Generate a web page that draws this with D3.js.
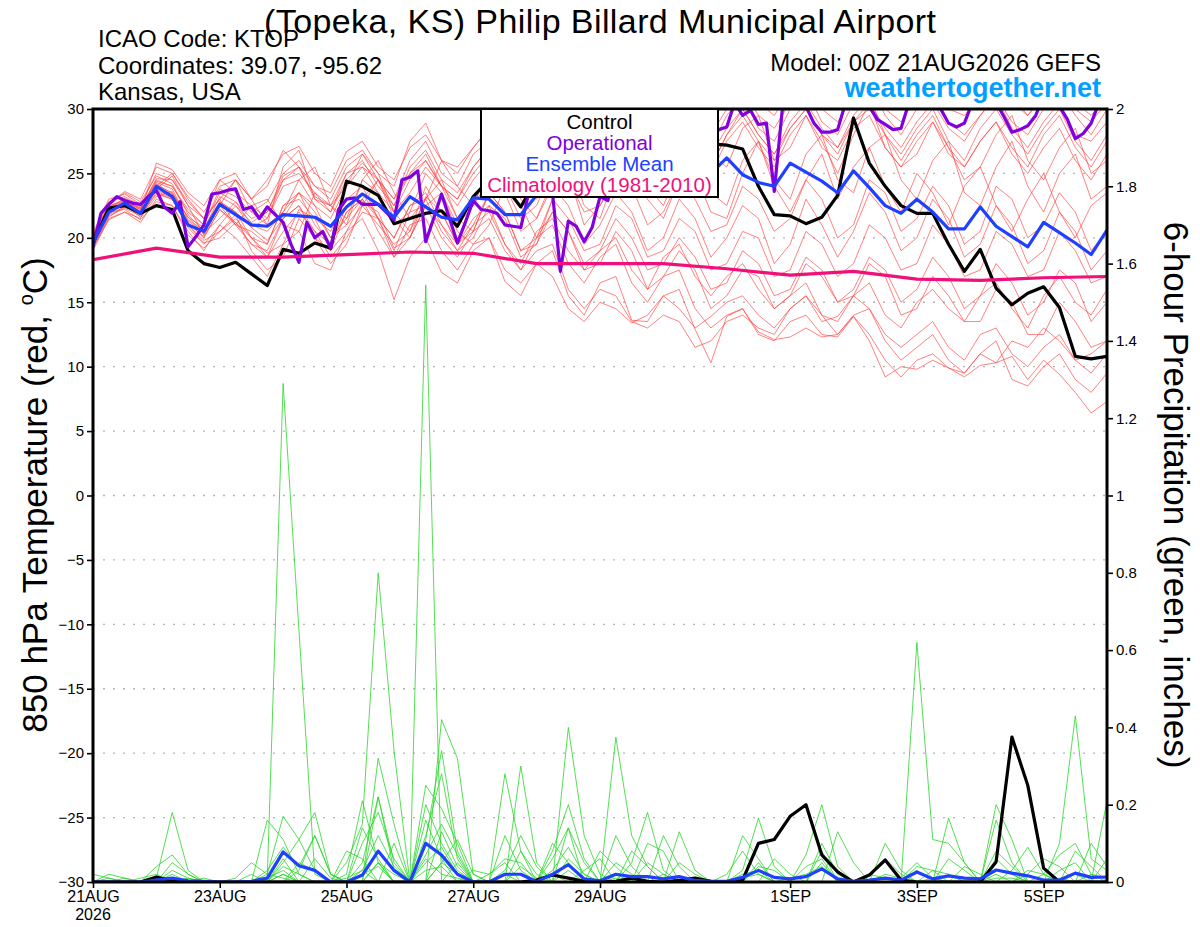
<!DOCTYPE html>
<html>
<head>
<meta charset="utf-8">
<script src="https://cdn.jsdelivr.net/npm/d3@7"></script>
<style>
  body { margin: 0; background: #fff; }
  text { font-family: "Liberation Sans", Arial, Helvetica, sans-serif; }
</style>
</head>
<body>
<div id="chart-area"></div>
<script>
// 850 hPa temperature (C), 6-hourly, 21AUG 00Z .. 6SEP 00Z (65 steps)
const controlTemp = [
  19.6, 22.3, 22.5, 21.9, 22.5, 22.2, 19.0, 18.0,
  17.7, 18.1, 17.2, 16.3, 19.1, 18.8, 19.6, 19.2,
  24.4, 24.0, 23.3, 21.1, 21.5, 21.9, 22.1, 20.9,
  23.2, 24.5, 24.0, 22.4, 24.5, 25.0, 24.5, 25.5,
  26.0, 25.0, 26.5, 27.0, 26.5, 27.5, 27.0, 27.3,
  27.2, 26.9, 24.0, 21.8, 21.7, 21.1, 21.6, 23.3,
  29.3, 25.8, 24.0, 22.5, 21.9, 21.9, 19.5, 17.4,
  19.1, 16.1, 14.8, 15.7, 16.2, 14.6, 10.8, 10.6,
  10.8
];
const meanTemp = [
  19.6, 22.0, 22.7, 21.9, 24.0, 23.2, 21.0, 20.5,
  22.6, 21.8, 21.0, 20.9, 21.8, 21.7, 21.6, 20.9,
  22.4, 23.4, 22.6, 21.6, 23.2, 22.4, 21.6, 21.4,
  23.1, 23.0, 21.8, 21.8, 23.3, 24.0, 24.5, 24.0,
  25.0, 24.5, 25.0, 25.5, 25.0, 25.5, 25.3, 25.0,
  26.2, 24.9, 24.3, 24.0, 25.8, 25.1, 24.4, 23.5,
  25.2, 23.9, 22.5, 21.9, 23.0, 22.0, 20.7, 20.7,
  22.4, 20.9, 20.1, 19.3, 21.2, 20.4, 19.6, 18.7,
  20.6
];
// operational run, 3-hourly (129 steps)
const operTemp = [
  19.3, 21.9, 22.6, 23.2, 22.9, 22.7, 22.6, 23.2,
  23.7, 22.4, 21.9, 22.8, 19.3, 20.1, 21.0, 23.4,
  23.5, 23.7, 23.8, 22.2, 22.4, 21.5, 22.4, 21.8,
  21.2, 19.5, 18.1, 21.2, 20.0, 20.5, 19.2, 22.2,
  23.0, 23.1, 22.6, 22.6, 22.6, 22.0, 21.4, 24.5,
  24.7, 25.2, 19.7, 21.5, 23.4, 21.5, 19.6, 21.2,
  22.9, 22.2, 22.1, 21.9, 21.0, 20.9, 20.8, 23.5,
  25.0, 24.5, 23.5, 17.4, 21.3, 20.9, 19.7, 20.8,
  23.2, 22.9, 25.5, 26.5, 27.0, 26.0, 27.5, 28.0,
  27.0, 28.5, 29.0, 28.0, 29.0, 28.5, 28.0, 28.4,
  28.6, 30.5, 29.5, 29.9, 28.8, 28.9, 23.6, 29.9,
  31.0, 31.5, 30.2, 28.9, 28.2, 28.2, 28.4, 30.5,
  31.5, 31.0, 30.2, 29.2, 28.8, 28.4, 28.5, 30.5,
  31.5, 31.0, 30.5, 30.0, 28.9, 28.6, 28.9, 30.5,
  31.5, 31.0, 30.5, 29.4, 28.2, 28.4, 28.7, 29.5,
  31.0, 31.5, 30.2, 29.2, 27.7, 28.1, 28.9, 30.5,
  31.0
];
// climatology, daily (17 days)
const climTemp = [18.3, 19.2, 18.5, 18.5, 18.7, 18.9, 18.8, 18.0, 18.0, 18.0, 17.6, 17.1, 17.4, 16.8, 16.7, 16.9, 17.0];

// ensemble members, temperature
const memberTemp = [
  [19.8,22.4,23.0,22.3,24.5,24.0,22.0,21.0, 23.5,22.8,21.5,22.0,24.5,25.5,23.0,22.0, 24.5,25.8,24.5,22.5,25.0,26.5,24.0,23.0, 25.5,27.0,25.0,24.0,26.5,28.0,26.0,25.0, 27.5,29.0,27.0,26.0,28.5,30.5,28.0,27.0, 29.5,31.0,28.5,27.5,30.0,31.5,29.0,28.0, 30.5,32.0,29.5,28.0,30.0,31.5,29.0,28.0, 29.5,31.0,28.5,27.0,29.0,30.5,28.0,27.5, 29.0],
  [19.2,21.6,22.5,21.8,23.5,23.0,20.8,19.5, 21.0,22.5,20.8,19.8,21.5,23.5,22.0,20.0, 21.5,23.0,24.5,21.5,20.0,22.5,23.5,20.5, 19.5,21.0,24.0,22.5,20.0,23.0,25.0,21.0, 22.5,24.5,26.0,23.0,21.5,24.5,25.0,22.0, 21.5,25.0,27.5,24.0,22.0,24.5,26.5,23.0, 25.5,27.0,24.0,22.0,25.0,23.5,21.0,24.0, 25.5,22.5,20.5,23.0,25.0,22.0,20.0,22.5, 23.5],
  [20.2,22.8,23.2,22.5,25.0,24.5,22.5,21.5, 23.0,21.0,19.5,18.5,21.5,22.5,20.0,19.0, 22.0,23.0,21.5,19.0,22.0,22.5,20.0,18.5, 20.5,21.5,19.0,17.5,20.0,21.0,18.0,16.5, 18.5,19.5,16.5,15.0,17.0,17.5,14.5,13.0, 14.0,14.5,12.5,12.0,13.5,14.0,12.5,12.3, 13.9,12.5,10.5,9.2,10.5,11.0,9.9,9.2, 10.1,10.3,10.8,9.0,10.5,9.4,8.0,6.4, 7.3],
  [19.5,22.0,22.8,22.0,25.8,25.3,23.5,22.5, 24.5,25.0,23.0,24.0,26.8,25.5,24.0,23.5, 26.0,26.8,25.0,24.0,27.5,28.9,26.0,25.0, 27.0,28.5,26.5,25.5,28.0,29.5,27.0,26.5, 28.5,30.0,28.5,27.0,29.5,31.0,29.0,28.0, 30.0,31.5,29.5,28.5,30.5,32.0,30.0,29.0, 31.0,32.5,30.0,29.0,31.0,32.0,30.0,29.5, 31.0,32.5,30.5,29.5,31.0,32.0,30.0,29.0, 30.5],
  [19.0,21.5,22.0,21.2,23.0,22.5,20.5,19.0, 21.0,20.0,18.5,17.0,19.5,20.5,18.0,17.5, 20.5,21.5,19.0,15.2,18.5,20.0,17.3,16.5, 19.0,20.0,16.6,15.5,18.0,19.0,15.5,14.0, 16.5,17.0,13.6,13.5,15.5,16.0,12.9,10.3, 13.9,14.5,12.7,12.1,12.3,13.0,12.3,12.5, 13.9,12.0,9.2,10.0,9.8,10.5,9.9,9.5, 11.0,10.3,12.0,11.5,13.0,12.0,10.5,11.0, 12.0],
  [20.0,22.5,23.5,22.8,24.8,24.2,21.8,20.5, 22.5,24.5,23.0,21.0,22.0,24.5,25.5,22.5, 21.5,24.5,26.0,23.5,21.5,23.0,26.0,24.0, 22.5,25.5,27.5,24.0,23.0,26.0,28.5,25.0, 24.0,27.5,29.0,26.0,24.5,28.0,30.0,26.5, 25.5,28.5,29.5,26.0,27.0,29.5,27.5,25.0, 28.0,30.5,27.0,25.5,26.5,29.0,27.0,24.5, 25.5,28.0,29.5,26.0,24.5,27.0,28.5,25.0, 26.0],
  [19.6,22.2,22.6,21.6,23.2,23.6,21.2,20.0, 22.2,21.0,20.5,19.5,22.5,23.0,21.5,20.5, 23.0,24.0,21.5,20.0,22.5,23.5,21.0,19.5, 21.5,22.5,19.5,17.5,19.0,19.5,16.0,14.5, 16.0,15.5,13.5,13.0,14.0,13.5,11.5,12.0, 13.5,14.0,13.0,12.5,14.5,15.5,13.5,13.9, 15.5,16.5,14.0,13.0,15.0,16.0,14.5,13.5, 15.5,16.5,14.5,13.0,15.5,17.0,15.0,14.0, 16.0],
  [19.4,21.8,22.4,21.9,24.0,25.0,23.0,21.5, 23.0,24.5,22.0,21.0,25.5,26.8,23.0,22.5, 24.0,26.5,25.0,22.0,23.5,25.5,24.0,21.5, 22.5,24.5,23.5,20.5,21.5,24.0,22.5,19.5, 21.0,23.5,22.0,19.0,20.0,23.0,21.5,18.5, 20.0,22.5,21.5,18.0,19.5,23.0,21.0,18.5, 20.5,23.5,22.0,19.0,20.0,23.0,21.5,18.5, 19.5,22.5,21.0,18.0,19.0,22.0,20.5,17.5, 19.0],
  [20.4,23.0,23.4,22.6,24.2,23.4,21.6,20.8, 22.8,22.0,20.8,21.5,24.0,24.5,22.5,21.5, 24.0,25.5,23.5,22.0,24.5,26.0,24.0,23.0, 25.0,26.5,25.0,23.5,26.0,27.5,25.5,24.5, 27.0,28.5,27.0,25.5,28.0,29.5,27.5,26.5, 28.5,30.0,28.0,26.5,28.5,30.0,28.0,27.0, 29.0,30.5,28.5,27.0,29.0,30.5,28.5,27.5, 29.5,31.0,29.0,28.0,30.0,31.5,29.5,28.0, 30.0],
  [19.8,22.0,22.2,21.4,22.8,22.5,20.2,19.2, 20.5,21.5,20.0,18.5,20.5,22.0,20.5,18.5, 20.0,22.0,21.5,18.5,20.0,22.5,21.0,19.0, 20.0,22.5,21.5,18.5,19.5,22.0,20.5,18.0, 19.0,21.5,20.0,17.5,18.0,20.0,18.5,16.0, 16.5,19.0,18.0,15.5,16.0,18.5,17.5,15.0, 15.5,18.0,17.0,14.0,14.5,17.0,15.5,13.5, 13.5,16.0,15.0,12.5,12.5,15.0,13.5,11.5, 12.0],
  [20.0,22.6,23.6,23.0,25.5,25.0,23.2,22.0, 24.0,24.5,23.0,24.5,26.5,27.1,25.0,24.0, 26.7,27.5,25.5,24.5,27.0,28.0,26.0,25.5, 27.0,28.5,27.0,26.0,28.5,30.0,28.5,27.5, 29.5,31.0,29.5,28.5,30.5,32.0,30.0,29.0, 31.0,32.5,30.5,29.5,31.5,33.0,31.0,30.0, 32.0,33.5,31.5,30.0,32.0,33.0,31.0,30.0, 31.5,33.0,31.0,29.5,31.0,32.5,30.5,29.5, 31.0],
  [19.3,21.4,22.0,21.5,23.8,24.8,22.5,20.2, 22.5,21.0,22.5,23.0,21.0,20.5,23.5,22.5, 21.0,22.5,24.5,22.0,20.5,23.0,24.5,21.5, 20.5,23.5,25.5,23.0,21.5,24.5,26.0,22.5, 21.5,25.0,27.0,24.0,22.5,25.5,27.0,23.5, 22.5,26.0,27.5,24.5,23.0,26.5,28.0,24.5, 23.5,27.0,28.0,24.5,23.0,26.0,27.5,23.5, 22.5,25.5,27.5,24.0,22.0,25.0,26.5,23.0, 24.0],
  [19.7,22.1,22.9,22.2,23.6,23.1,21.0,19.8, 20.5,21.8,19.0,17.5,18.5,21.5,20.0,18.0, 19.5,22.5,21.0,19.5,20.5,24.0,22.0,19.5, 21.0,23.5,22.0,19.0,20.0,22.0,20.5,17.5, 18.0,20.5,19.0,16.0,17.0,19.0,17.5,14.5, 15.5,17.5,17.0,14.5,15.5,18.0,17.0,15.0, 16.0,18.5,17.5,15.0,16.0,18.5,17.0,14.5, 15.5,18.0,16.5,14.0,15.0,17.5,16.5,13.5, 15.0],
  [20.1,22.3,22.7,22.1,24.3,23.8,21.4,20.6, 23.2,22.5,21.2,22.0,24.8,25.5,23.2,22.5, 25.0,26.0,24.0,22.5,25.5,26.8,24.5,23.5, 25.5,27.0,25.5,24.0,26.5,28.0,25.5,24.5, 26.5,28.0,26.0,24.5,27.0,28.5,26.0,25.0, 27.5,29.0,27.0,25.5,28.0,29.5,27.0,26.0, 28.5,29.5,27.0,25.5,27.5,29.0,26.5,25.5, 27.5,29.0,27.0,25.5,28.0,29.5,27.0,25.5, 27.5],
  [19.5,21.9,22.6,22.0,24.1,23.5,21.6,20.3, 22.8,22.0,20.0,19.5,22.5,23.5,21.0,19.5, 22.5,23.5,21.5,20.0,22.5,23.0,20.5,19.0, 21.0,22.0,19.5,18.0,20.5,21.5,19.0,17.5, 19.0,20.0,17.5,16.0,18.5,19.5,17.0,15.5, 17.0,18.0,16.0,14.5,15.5,16.5,14.0,12.5, 14.0,14.5,12.0,10.5,11.5,12.5,10.5,9.5, 11.0,12.0,9.0,8.5,10.0,11.0,9.0,8.0, 9.5],
  [19.9,22.2,23.1,22.4,23.9,23.3,21.3,20.4, 21.5,22.8,21.0,20.5,22.0,23.5,22.5,20.0, 21.0,24.5,23.5,21.0,22.0,25.0,23.5,21.0, 22.5,25.5,24.0,21.5,22.5,25.5,24.5,22.0, 22.5,25.0,24.0,21.0,22.0,24.5,23.0,20.5, 21.0,24.0,23.0,20.5,21.5,24.5,23.0,20.0, 21.0,24.5,23.5,20.5,21.5,24.0,22.5,19.5, 20.5,24.0,23.0,20.0,21.0,23.5,22.0,19.0, 20.5],
  [19.6,22.0,22.8,22.3,24.6,24.5,22.8,21.5, 24.5,23.5,22.5,21.5,24.5,25.0,23.5,22.0, 25.0,25.5,24.5,23.0,26.0,27.5,25.0,24.0, 26.5,27.5,25.5,24.5,27.0,28.5,26.5,25.0, 27.5,28.5,26.5,25.0,27.5,29.0,27.0,25.5, 28.0,30.0,28.0,26.5,29.0,30.5,28.5,27.0, 29.5,31.0,28.0,26.0,28.0,29.5,27.0,25.5, 27.5,29.0,26.5,25.0,27.0,28.5,26.0,24.5, 26.5],
  [19.4,21.7,22.3,21.7,23.4,23.0,21.0,19.6, 20.0,21.2,20.0,18.8,19.5,22.2,21.5,19.0, 20.5,22.8,22.0,19.2,20.0,23.2,22.0,19.5, 20.5,23.5,22.0,19.0,19.5,23.0,21.5,19.0, 19.5,22.5,21.5,18.5,19.0,21.5,20.5,17.5, 18.0,20.5,20.0,17.0,17.5,20.5,19.5,17.0, 18.0,21.0,20.0,17.5,18.0,21.0,19.5,17.0, 17.5,20.5,19.5,17.0,17.5,20.5,19.0,16.5, 17.0],
  [20.3,22.5,22.9,22.0,23.7,23.2,21.1,20.1, 22.2,21.2,19.5,19.0,21.5,22.5,20.5,19.5, 22.0,23.0,20.5,18.5,21.0,21.5,19.0,17.5, 19.5,20.0,17.5,16.5,18.0,17.0,14.5,13.5, 15.0,14.5,13.4,14.0,15.5,14.5,13.0,13.9, 15.0,15.5,14.0,13.0,14.5,15.5,14.0,13.5, 15.5,14.5,12.5,11.5,12.5,13.5,11.5,10.5, 12.5,13.0,11.0,10.0,11.5,12.5,10.5,9.5, 11.0],
  [20.0,22.4,22.8,22.2,24.4,24.0,22.2,21.0, 23.8,23.2,22.0,22.8,25.0,26.0,24.0,23.0, 25.5,26.5,24.5,23.0,25.0,26.0,24.0,22.5, 24.5,26.0,24.0,22.5,25.0,26.5,24.5,23.5, 26.5,28.0,26.5,25.0,27.5,29.0,27.0,25.5, 28.0,29.5,27.5,26.0,28.5,30.0,28.0,26.5, 29.0,30.0,28.0,26.5,28.5,30.0,27.5,26.0, 28.5,30.0,28.0,26.5,28.5,30.0,27.5,26.0, 28.0]
];

// 6-hour precipitation (inches)
const controlPrecip = [
  0, 0, 0, 0, 0.013, 0.003, 0, 0,
  0, 0, 0, 0, 0, 0, 0, 0,
  0, 0, 0, 0, 0, 0, 0, 0,
  0, 0, 0, 0, 0.005, 0.018, 0.01, 0.002,
  0, 0.002, 0.01, 0.002, 0, 0.004, 0.01, 0.002,
  0, 0.005, 0.10, 0.11, 0.17, 0.20, 0.07, 0.026,
  0, 0.018, 0.057, 0.005, 0, 0, 0, 0,
  0, 0.052, 0.375, 0.25, 0.036, 0, 0, 0,
  0
];
const meanPrecip = [
  0, 0, 0, 0, 0.005, 0.01, 0.003, 0.002,
  0, 0, 0.002, 0.01, 0.078, 0.042, 0.03, 0,
  0, 0.018, 0.08, 0.03, 0, 0.1, 0.07, 0.02,
  0, 0, 0.02, 0.02, 0.001, 0.02, 0.045, 0.008,
  0.003, 0.02, 0.014, 0.014, 0.008, 0.014, 0.004, 0.002,
  0.002, 0.012, 0.03, 0.012, 0.008, 0.014, 0.034, 0.008,
  0.002, 0.005, 0.01, 0.005, 0.026, 0.008, 0.016, 0.01,
  0.008, 0.031, 0.023, 0.016, 0.005, 0.005, 0.023, 0.012,
  0.013
];
const memberPrecip = [
  [0.02,0.01,0,0,0,0,0,0, 0,0,0,0.01,1.29,0.65,0.02,0, 0,0.05,0.22,0.05,0,0,0.13,0.04, 0,0,0,0,0,0.06,0.14,0, 0,0,0.05,0.18,0.03,0,0,0, 0,0,0.05,0,0,0,0.08,0, 0,0,0,0,0.03,0,0,0, 0,0.16,0.05,0,0,0,0.08,0.04, 0],
  [0,0,0,0,0.01,0.18,0.03,0, 0,0,0,0,0,0,0,0, 0.02,0.21,0.05,0,0,1.545,0,0.05, 0,0,0.28,0.08,0,0,0,0, 0,0.375,0.12,0.04,0,0,0,0, 0,0.03,0.165,0.04,0,0,0,0, 0,0,0,0,0,0,0.165,0.05, 0,0,0,0,0,0,0,0, 0.21],
  [0,0,0,0,0,0.05,0.02,0, 0,0,0,0.16,0.11,0.02,0,0, 0.05,0.15,0.80,0.34,0,0,0.42,0.32, 0.02,0,0,0.30,0.05,0,0,0, 0,0,0,0,0.12,0.04,0,0, 0,0,0,0,0,0.07,0.20,0.04, 0,0,0,0,0,0,0,0, 0,0.20,0.11,0,0,0,0,0, 0],
  [0,0,0,0,0,0,0,0, 0,0.01,0.05,0.02,0.17,0.11,0.18,0.02, 0,0,0,0,0,0.11,0.34,0.08, 0,0,0,0,0,0,0.40,0.12, 0.02,0,0,0,0,0,0,0, 0.02,0.08,0.02,0,0,0,0,0, 0,0,0,0,0.62,0.11,0.10,0.05, 0,0,0,0.02,0.06,0.04,0,0, 0],
  [0,0.02,0.01,0,0,0,0,0, 0,0,0,0,0,0.03,0.12,0.02, 0,0,0.32,0.15,0,0.25,0.19,0.10, 0,0,0,0,0,0.08,0.20,0.06, 0,0,0,0,0,0.13,0.03,0, 0,0,0,0,0,0,0,0.13, 0.05,0,0,0,0,0,0,0, 0,0,0,0,0,0.10,0.43,0.06, 0.03],
  [0,0,0,0,0.04,0.07,0.02,0, 0,0,0,0,0.05,0.11,0.03,0, 0,0.10,0.18,0.06,0,0.12,0.28,0.06, 0,0.02,0.06,0.05,0,0,0.14,0.05, 0,0,0,0.10,0.08,0,0,0, 0,0,0,0,0,0,0,0, 0,0,0.10,0.03,0,0,0,0, 0,0.08,0.04,0,0,0,0,0, 0],
  [0,0,0.01,0,0,0,0,0, 0,0,0.02,0,0.06,0,0,0, 0.08,0.06,0,0.10,0,0.07,0.15,0.07, 0,0,0.03,0.12,0.04,0,0,0, 0,0.12,0.04,0,0,0,0,0, 0,0,0,0.06,0.02,0,0.05,0, 0,0,0,0,0,0,0.06,0.03, 0,0.06,0.02,0,0,0,0,0.10, 0.04],
  [0,0,0,0,0,0.03,0.01,0, 0,0,0,0.03,0.09,0.04,0.12,0.02, 0,0,0.22,0.03,0,0,0.05,0.11, 0.02,0,0,0,0,0.10,0.05,0, 0.08,0.04,0,0,0,0,0,0, 0,0.12,0.06,0,0,0,0,0, 0,0.02,0.06,0.02,0,0,0,0, 0,0,0.03,0.09,0.02,0,0,0, 0],
  [0,0,0,0,0,0,0,0.01, 0,0,0,0,0.04,0.02,0,0, 0,0.03,0.12,0.04,0,0.20,0.10,0.03, 0,0,0,0.08,0.02,0,0,0.03, 0.06,0,0,0.05,0.02,0,0,0, 0,0,0,0,0,0.04,0.06,0, 0,0,0,0,0.04,0.03,0,0, 0,0,0,0,0.02,0.07,0.10,0.02, 0],
  [0,0,0,0.01,0.02,0,0,0, 0,0,0,0,0.02,0,0.06,0.01, 0,0.14,0.06,0,0,0.16,0.06,0, 0.03,0.02,0.05,0,0,0,0.06,0.02, 0,0,0.08,0.04,0,0,0,0, 0,0,0.04,0.03,0,0,0,0, 0,0,0,0,0,0.03,0.02,0, 0,0.03,0.02,0,0,0,0,0, 0.06],
  [0,0,0,0,0,0.02,0,0, 0,0,0,0.01,0.03,0,0,0, 0,0,0.05,0.02,0,0.05,0.09,0.02, 0,0,0.12,0.03,0,0.03,0.09,0.02, 0,0.02,0,0,0,0.05,0.02,0, 0,0,0,0,0,0,0.10,0.02, 0,0,0,0,0,0,0,0.04, 0.02,0,0,0,0,0.03,0.05,0, 0],
  [0,0,0,0,0.01,0,0.01,0, 0,0,0,0,0,0.05,0.03,0, 0,0,0.05,0,0,0,0.05,0.02, 0,0,0,0.04,0.01,0,0,0, 0,0.05,0.02,0,0,0,0,0, 0,0.02,0.03,0,0,0,0,0, 0,0,0.02,0.01,0.05,0.01,0,0, 0,0,0,0.03,0.02,0,0,0.02, 0.01],
  [0,0,0,0,0,0,0,0, 0,0,0,0,0.02,0,0,0, 0,0.02,0.04,0,0,0.03,0.04,0, 0,0,0.02,0,0,0,0.03,0, 0,0,0,0,0.02,0,0,0, 0,0,0,0,0.01,0.02,0.04,0, 0,0.02,0.01,0,0,0,0.02,0, 0,0.02,0,0,0,0,0.02,0, 0],
  [0,0.01,0,0,0,0,0,0, 0,0,0,0.02,0.01,0,0,0, 0.01,0.03,0,0,0,0.06,0.02,0.01, 0,0,0,0,0,0.02,0,0, 0,0.01,0,0,0,0,0,0, 0,0.01,0.02,0,0,0,0,0, 0,0,0,0,0,0.01,0,0, 0,0.01,0.01,0,0,0.01,0,0, 0]
];

// axis ticks
const tempTicks = [-30, -25, -20, -15, -10, -5, 0, 5, 10, 15, 20, 25, 30];
const gridTicks = [-25, -20, -15, -10, -5, 0, 5, 10, 15, 20, 25];
const precipTicks = [0, 0.2, 0.4, 0.6, 0.8, 1, 1.2, 1.4, 1.6, 1.8, 2];
const dateTicks = ["2026-08-21", "2026-08-23", "2026-08-25", "2026-08-27", "2026-08-29", "2026-09-01", "2026-09-03", "2026-09-05"];
const dateLabels = ["21AUG", "23AUG", "25AUG", "27AUG", "29AUG", "1SEP", "3SEP", "5SEP"];

const width = 1200, height = 927;
const margin = {left: 93, right: 93, top: 109, bottom: 45};
const plotW = width - margin.left - margin.right;
const plotH = height - margin.top - margin.bottom;

const t0 = Date.UTC(2026, 7, 21, 0);
const HOUR = 3600 * 1000;

const x = d3.scaleUtc()
    .domain([new Date(t0), new Date(t0 + 384 * HOUR)])
    .range([0, plotW]);
const yT = d3.scaleLinear().domain([-30, 30]).range([plotH, 0]);
const yP = d3.scaleLinear().domain([0, 2]).range([plotH, 0]);

const svg = d3.select("#chart-area").append("svg")
    .attr("width", width)
    .attr("height", height);

svg.append("defs").append("clipPath").attr("id", "plot-clip")
  .append("rect").attr("width", plotW).attr("height", plotH);

const g = svg.append("g")
    .attr("transform", "translate(" + margin.left + ", " + margin.top + ")");

// grid
g.selectAll(".grid").data(gridTicks).enter().append("line")
    .attr("class", "grid")
    .attr("x1", 0).attr("x2", plotW)
    .attr("y1", d => yT(d)).attr("y2", d => yT(d))
    .attr("stroke", "#b4b4b4")
    .attr("stroke-width", 1.3)
    .attr("stroke-dasharray", "2,8");

const plot = g.append("g").attr("clip-path", "url(#plot-clip)");

const step = (hours) => (d, i) => x(new Date(t0 + i * hours * HOUR));
const lineT6 = d3.line().x(step(6)).y(d => yT(d));
const lineT3 = d3.line().x(step(3)).y(d => yT(d));
const lineT24 = d3.line().x(step(24)).y(d => yT(d));
const lineP6 = d3.line().x(step(6)).y(d => yP(d));

plot.selectAll(".member-p").data(memberPrecip).enter().append("path")
    .attr("class", "member-p")
    .attr("d", lineP6)
    .attr("fill", "none")
    .attr("stroke", "#2ad62a")
    .attr("stroke-width", 0.8);

plot.selectAll(".member-t").data(memberTemp).enter().append("path")
    .attr("class", "member-t")
    .attr("d", lineT6)
    .attr("fill", "none")
    .attr("stroke", "#ff3a3a")
    .attr("stroke-opacity", 0.8)
    .attr("stroke-width", 0.8);

const thick = (data, gen, color) => plot.append("path")
    .attr("d", gen(data))
    .attr("fill", "none")
    .attr("stroke", color)
    .attr("stroke-width", 3.2)
    .attr("stroke-linejoin", "round");

thick(controlPrecip, lineP6, "#000");
thick(meanPrecip, lineP6, "#2040ff");
thick(controlTemp, lineT6, "#000");
thick(operTemp, lineT3, "#8000e0");
thick(meanTemp, lineT6, "#2040ff");
thick(climTemp, lineT24, "#f0107a");

// axes
const font = "Liberation Sans, Arial, Helvetica, sans-serif";
const left = g.append("g")
    .call(d3.axisLeft(yT).tickValues(tempTicks).tickSize(6).tickPadding(3));
const right = g.append("g")
    .attr("transform", "translate(" + plotW + ", 0)")
    .call(d3.axisRight(yP).tickValues(precipTicks).tickFormat(d => String(d)).tickSize(6).tickPadding(3));
const bottom = g.append("g")
    .attr("transform", "translate(0, " + plotH + ")")
    .call(d3.axisBottom(x).tickValues(dateTicks.map(d => new Date(d + "T00:00:00Z")))
        .tickFormat((d, i) => dateLabels[i]).tickSize(6).tickPadding(3));
[left, right].forEach(a => a.attr("font-size", 15).attr("font-family", font));
bottom.attr("font-size", 16).attr("font-family", font);
[left, right, bottom].forEach(a => {
  a.select(".domain").remove();
  a.selectAll(".tick line").attr("stroke-width", 1.6);
});
g.append("text")
    .attr("x", 0).attr("y", plotH + 38)
    .attr("text-anchor", "middle")
    .attr("font-size", 16)
    .text("2026");

// frame
g.append("rect")
    .attr("width", plotW).attr("height", plotH)
    .attr("fill", "none").attr("stroke", "#000").attr("stroke-width", 3);

// legend
const legend = g.append("g").attr("transform", "translate(" + (481 - margin.left) + ", 0)");
legend.append("rect")
    .attr("width", 237).attr("height", 88)
    .attr("fill", "#fff").attr("stroke", "#000").attr("stroke-width", 2);
const legendItems = [
  ["Control", "#000"],
  ["Operational", "#8000e0"],
  ["Ensemble Mean", "#2040ff"],
  ["Climatology (1981-2010)", "#f0107a"]
];
legend.selectAll(".leg").data(legendItems).enter().append("text")
    .attr("x", 118.5)
    .attr("y", (d, i) => 19.5 + i * 21.3)
    .attr("text-anchor", "middle")
    .attr("font-size", 20.5)
    .attr("fill", d => d[1])
    .text(d => d[0]);

// axis titles
svg.append("text")
    .attr("transform", "translate(47, 495) rotate(-90)")
    .attr("text-anchor", "middle")
    .attr("font-size", 35)
    .text("850 hPa Temperature (red, ")
  .append("tspan").attr("font-size", 20).attr("dy", -14).text("o")
  .select(function () { return this.parentNode; })
  .append("tspan").attr("dy", 14).text("C)");
svg.append("text")
    .attr("transform", "translate(1164, 495) rotate(90)")
    .attr("text-anchor", "middle")
    .attr("font-size", 35)
    .text("6-hour Precipitation (green, inches)");

// header
svg.append("text")
    .attr("x", 600).attr("y", 33)
    .attr("text-anchor", "middle")
    .attr("font-size", 34)
    .attr("textLength", 672)
    .text("(Topeka, KS) Philip Billard Municipal Airport");
const info = ["ICAO Code: KTOP", "Coordinates: 39.07, -95.62", "Kansas, USA"];
svg.selectAll(".info").data(info).enter().append("text")
    .attr("x", 98)
    .attr("y", (d, i) => 47 + i * 26.5)
    .attr("font-size", 24)
    .text(d => d);
svg.append("text")
    .attr("x", 1101).attr("y", 71)
    .attr("text-anchor", "end")
    .attr("font-size", 24)
    .text("Model: 00Z 21AUG2026 GEFS");
svg.append("text")
    .attr("x", 1101).attr("y", 97)
    .attr("text-anchor", "end")
    .attr("font-size", 27)
    .attr("font-weight", "bold")
    .attr("fill", "#00a0ff")
    .text("weathertogether.net");
</script>
</body>
</html>
